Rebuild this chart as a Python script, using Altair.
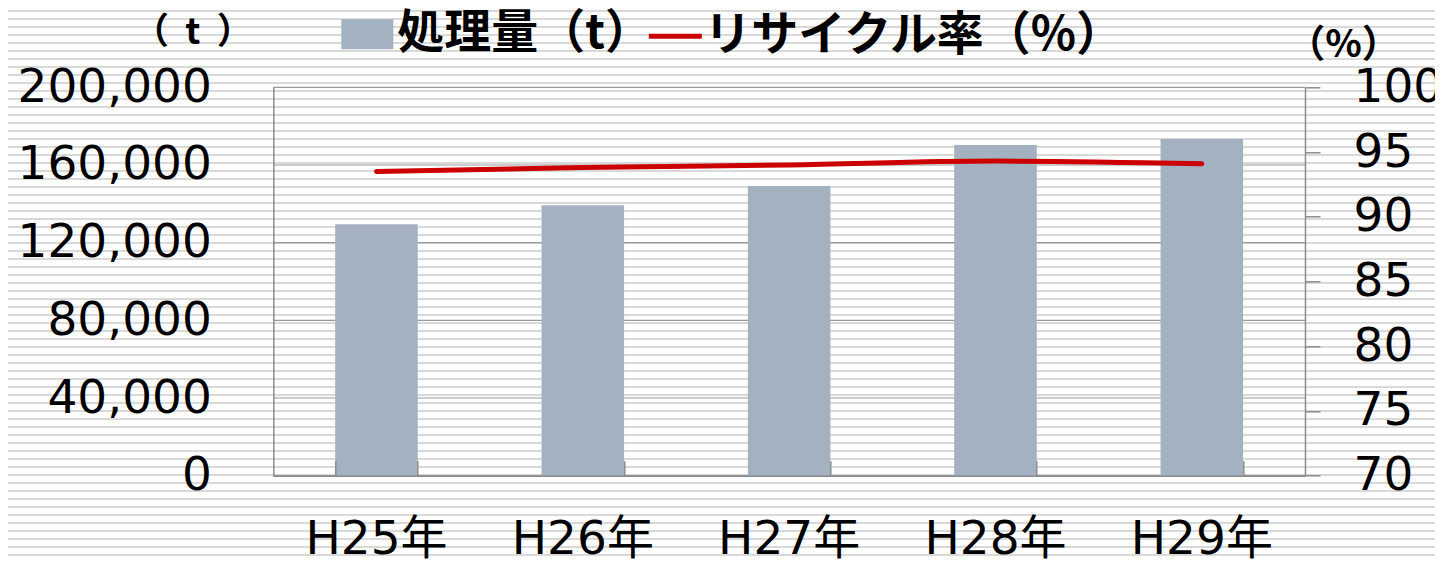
import altair as alt
import pandas as pd

# ---- data ----
years = ["H25年", "H26年", "H27年", "H28年", "H29年"]
amount = [129500, 139300, 149200, 170300, 173400]   # 処理量 (t)
rate = [93.5, 93.8, 94.0, 94.3, 94.1]               # リサイクル率 (%)
left_ticks = [0, 40000, 80000, 120000, 160000, 200000]
right_ticks = [70, 75, 80, 85, 90, 95, 100]
bar_name = "処理量（t）"
line_name = "リサイクル率（%）"

# ---- layout / style ----
W, H = 1031.7, 388.4
PL, PT, PR, PB = 265.3, 79.3, 130, 86
TH = PT + H + PB
BAR_COLOR = "#a3b1c0"
LINE_COLOR = "#cc0000"
AXIS_GRAY = "#8c8c8c"
GRID_GRAY = "#9a9a9a"
STRIPE = "#d9d9d9"
LATIN = "DejaVu Sans, Noto Sans CJK JP"
CJK = "Noto Sans CJK JP"
FS = 47

df = pd.DataFrame({"year": years, "amount": amount, "rate": rate,
                   "s1": [bar_name] * len(years), "s2": [line_name] * len(years)})

# background stripes as a hard-edged linear gradient
stops = [alt.GradientStop(color="white", offset=0)]
y = 2.0
while y + 1.6 < TH:
    a, b = y / TH, (y + 1.6) / TH
    stops += [alt.GradientStop(color="white", offset=a), alt.GradientStop(color=STRIPE, offset=a),
              alt.GradientStop(color=STRIPE, offset=b), alt.GradientStop(color="white", offset=b)]
    y += 8
stops.append(alt.GradientStop(color="white", offset=1))
grad = alt.LinearGradient(gradient="linear", stops=stops, x1=0, x2=0, y1=0, y2=1)

stripes = alt.Chart(pd.DataFrame({"a": [0]})).mark_rect(fill=grad, clip=False).encode(
    x=alt.value(-PL), x2=alt.value(W + PR), y=alt.value(-PT), y2=alt.value(H + PB)
)

grid = alt.Chart(pd.DataFrame({"v": left_ticks})).mark_rule(color=GRID_GRAY, strokeWidth=1.2).encode(
    y=alt.Y("v:Q", scale=alt.Scale(domain=[0, 200000], nice=False), axis=None)
)

x_scale = alt.Scale(paddingInner=0.6, paddingOuter=0.3)

bars = alt.Chart(df).mark_bar(color=BAR_COLOR).encode(
    x=alt.X("year:N", sort=years, scale=x_scale,
            axis=alt.Axis(orient="bottom", title=None, labelAngle=0, ticks=False, tickSize=0,
                          domainColor=AXIS_GRAY, domainWidth=1.5, grid=False,
                          labelFont=LATIN, labelFontSize=FS, labelColor="black",
                          labelPadding=41, labelLimit=400, zindex=1)),
    y=alt.Y("amount:Q", scale=alt.Scale(domain=[0, 200000], nice=False),
            axis=alt.Axis(orient="left", values=left_ticks, format=",.0f", grid=False,
                          ticks=False, tickSize=0, domainColor=AXIS_GRAY, domainWidth=1.5,
                          labelFont=LATIN, labelFontSize=FS, labelColor="black",
                          labelPadding=62, labelOverlap=False, labelLimit=400,
                          title="（\u00a0\u00a0t\u00a0\u00a0）", titleAngle=0, titleX=-81, titleY=-55,
                          titleAlign="center", titleBaseline="middle", titleFont=CJK,
                          titleFontSize=36, titleFontWeight="bold", titleColor="black",
                          zindex=1)),
    color=alt.Color("s1:N", scale=alt.Scale(range=[BAR_COLOR]),
                    legend=alt.Legend(title=None, orient="none", legendX=68, legendY=-79,
                                      symbolType="M-1,-0.577H1V0.577H-1Z", symbolSize=2704,
                                      symbolStrokeWidth=0, symbolOpacity=1,
                                      labelFont=CJK, labelFontSize=FS, labelFontWeight="bold",
                                      labelColor="black", labelOffset=4, labelLimit=600,
                                      padding=0, zindex=1)),
)

line = alt.Chart(df).mark_line(strokeWidth=5, interpolate="monotone", strokeCap="round").encode(
    x=alt.X("year:N", sort=years,
            axis=alt.Axis(orient="bottom", title=None, labels=False, domain=False, ticks=True,
                          tickSize=15, tickBand="extent", tickColor=AXIS_GRAY, tickWidth=1.5,
                          offset=-15, grid=False, zindex=1)),
    y=alt.Y("rate:Q", scale=alt.Scale(domain=[70, 100], nice=False),
            axis=alt.Axis(orient="right", values=right_ticks, grid=False, ticks=True,
                          tickSize=15, tickColor=AXIS_GRAY, tickWidth=1.5,
                          domainColor=AXIS_GRAY, domainWidth=1.5,
                          labelFont=LATIN, labelFontSize=FS, labelColor="black",
                          labelPadding=33, labelOverlap=False, labelLimit=400,
                          title="（%）", titleAngle=0, titleX=38, titleY=-42,
                          titleAlign="center", titleBaseline="middle", titleFont=CJK,
                          titleFontSize=38, titleFontWeight="bold", titleColor="black",
                          zindex=1)),
    color=alt.Color("s2:N", scale=alt.Scale(range=[LINE_COLOR]),
                    legend=alt.Legend(title=None, orient="none", legendX=373, legendY=-80,
                                      symbolType="stroke", symbolSize=2809, symbolStrokeWidth=5,
                                      labelFont=CJK, labelFontSize=FS, labelFontWeight="bold",
                                      labelColor="black", labelOffset=0, labelLimit=600,
                                      padding=0, zindex=1)),
)

chart = alt.layer(stripes, grid, bars, line).resolve_scale(
    y="independent", color="independent"
).resolve_axis(x="independent", y="independent").properties(
    width=W, height=H,
    autosize=alt.AutoSizeParams(type="none"),
    padding={"left": PL, "top": PT, "right": PR, "bottom": PB},
    background="white",
).configure_view(strokeWidth=0)

chart.save("out.html", embed_options={"renderer": "svg", "actions": False})
